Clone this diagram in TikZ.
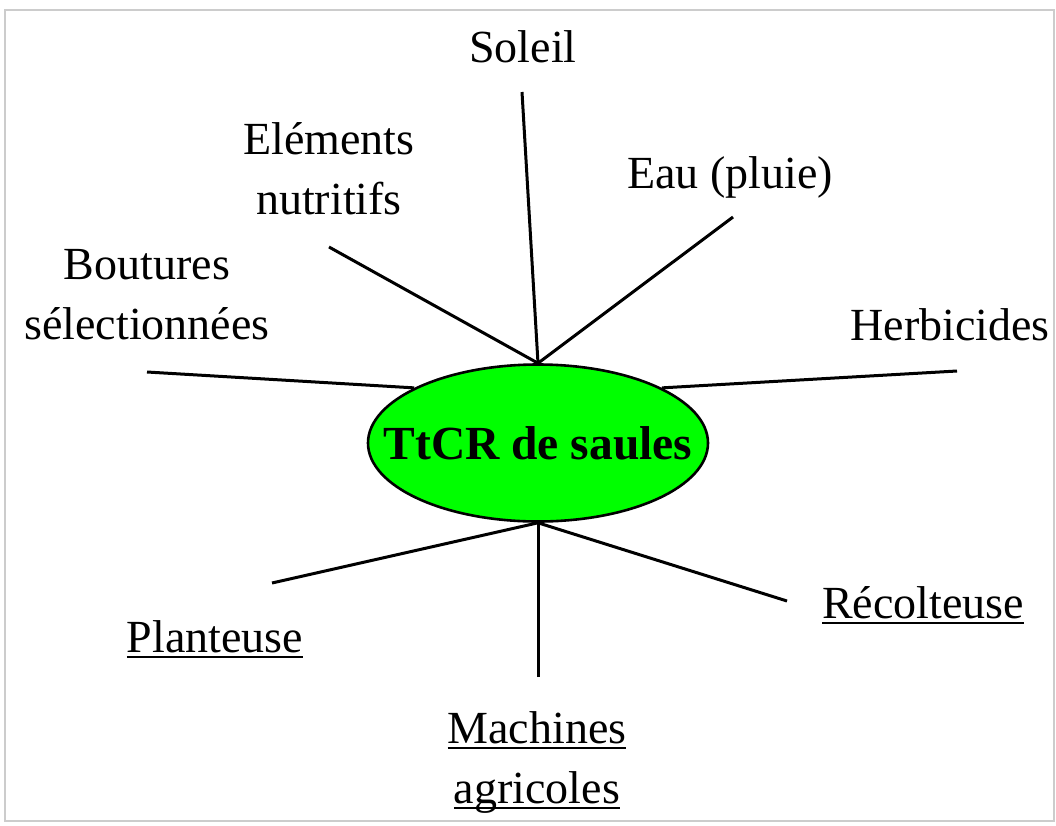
\documentclass[tikz,border=0pt]{standalone}
\usepackage{fontspec}
\setmainfont{Liberation Serif}
\usepackage{calc}
\usetikzlibrary{shapes.geometric}
\newcommand{\souligne}[1]{\leavevmode\rlap{\rule[-0.14em]{\widthof{#1}}{0.045em}}#1}
\tikzset{
  centre/.style={ellipse,draw,line width=2.6pt,fill=green,minimum width=340pt,minimum height=157pt,inner sep=0pt},
  etiquette/.style={font=\fontsize{46}{60}\selectfont,align=center,inner sep=0pt},
  rayon/.style={line width=3pt},
  cadre/.style={draw=black!20,line width=1.5pt},
}
\begin{document}
\begin{tikzpicture}[x=1pt,y=-1pt]
  \useasboundingbox (0,0) rectangle (1056,825);
  \draw[cadre] (5,10) rectangle (1054,821);
  % noeud central
  \node[centre,label={[font=\fontsize{47.5}{58}\selectfont\bfseries]center:TtCR de saules}] (ttcr) at (538,443) {};
  % etiquettes
  \node[etiquette,anchor=base] (soleil) at (523,62) {Soleil};
  \node[etiquette] (elements) at (329,169) {Eléments\\nutritifs};
  \node[etiquette,anchor=base] (eau) at (730,188) {Eau (pluie)};
  \node[etiquette] (boutures) at (147,295) {Boutures\\sélectionnées};
  \node[etiquette,anchor=base] (herbicides) at (950,340) {Herbicides};
  \node[etiquette,anchor=base] (planteuse) at (215,652) {\souligne{Planteuse}};
  \node[etiquette,anchor=base] (recolteuse) at (923,618) {\souligne{Récolteuse}};
  \node[etiquette] (machines) at (537,762) {\souligne{Machines}\\\souligne{agricoles}};
  % bouts libres des rayons
  \coordinate (bSoleil) at (522,92);
  \coordinate (bElements) at (329,247);
  \coordinate (bEau) at (733,217);
  \coordinate (bBoutures) at (147,372);
  \coordinate (bHerbicides) at (957,371);
  \coordinate (bPlanteuse) at (272,583);
  \coordinate (bRecolteuse) at (787,601);
  \coordinate (bMachines) at (538,677);
  % rayons
  \draw[rayon] (bSoleil) -- (ttcr.north);
  \draw[rayon] (bElements) -- (ttcr.north);
  \draw[rayon] (bEau) -- (ttcr.north);
  \draw[rayon] (bBoutures) -- (ttcr.156);
  \draw[rayon] (bHerbicides) -- (ttcr.24);
  \draw[rayon] (bPlanteuse) -- (ttcr.south);
  \draw[rayon] (bRecolteuse) -- (ttcr.south);
  \draw[rayon] (bMachines) -- (ttcr.south);
\end{tikzpicture}
\end{document}
